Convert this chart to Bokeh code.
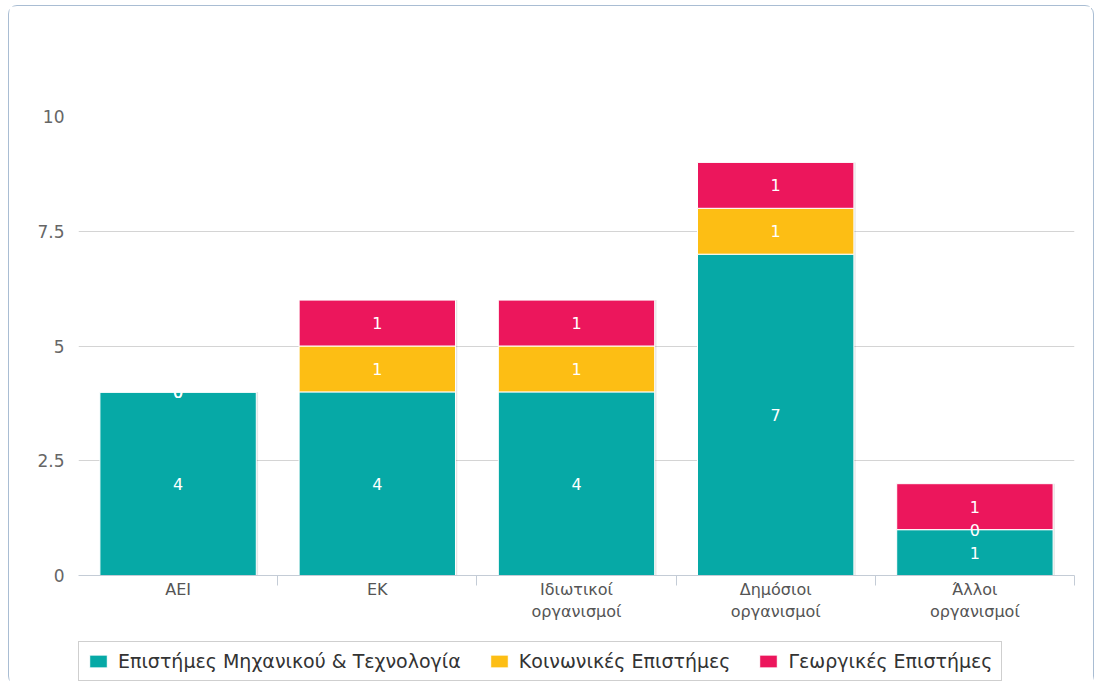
from bokeh.plotting import figure
from bokeh.layouts import column
from bokeh.models import Range1d, FixedTicker, Legend, LegendItem, ColumnDataSource
from bokeh.embed import file_html
from bokeh.resources import INLINE
from bokeh.core.properties import value

# ---- data ----
categories = ["ΑΕΙ", "ΕΚ", "Ιδιωτικοί\nοργανισμοί", "Δημόσιοι\nοργανισμοί", "Άλλοι\nοργανισμοί"]
series_names = ["Επιστήμες Μηχανικού & Τεχνολογία", "Κοινωνικές Επιστήμες", "Γεωργικές Επιστήμες"]
eng_tech = [4, 4, 4, 7, 1]
social = [0, 1, 1, 1, 0]
agri = [0, 1, 1, 1, 1]
y_ticks = [0, 2.5, 5, 7.5, 10]
y_tick_labels = ["0", "2.5", "5", "7.5", "10"]

colors = ["#06a9a6", "#fdbe14", "#ec165c"]
FONT = "DejaVu Sans"

n = len(categories)
xs = [i + 0.5 for i in range(n)]

p = figure(frame_width=996, frame_height=459, output_backend="svg", toolbar_location=None,
           x_range=Range1d(0, n), y_range=Range1d(0, 10),
           min_border_left=69, min_border_right=17, min_border_top=110, min_border_bottom=63)
p.outline_line_color = None
p.background_fill_color = "white"
p.border_fill_color = "white"

# stacked bars (with a soft shadow)
series = [eng_tech, social, agri]
totals = [sum(v) for v in zip(*series)]
shadow_src = ColumnDataSource(dict(x=[x + 0.009 for x in xs], top=totals, bottom=[-0.035] * n))
p.vbar(x="x", bottom="bottom", top="top", width=0.785, source=shadow_src,
       fill_color="#000000", fill_alpha=0.10, line_color=None)

bottom = [0] * n
renderers = []
for vals, col in zip(series, colors):
    top = [b + v for b, v in zip(bottom, vals)]
    mid = [b + v / 2 for b, v in zip(bottom, vals)]
    src = ColumnDataSource(dict(x=xs, bottom=bottom, top=top, mid=mid,
                                lab=[str(v) for v in vals]))
    r = p.vbar(x="x", bottom="bottom", top="top", width=0.785, source=src,
               fill_color=col, line_color="white", line_width=1)
    renderers.append((r, src))
    bottom = top

for r, src in renderers:
    p.text(x="x", y="mid", text="lab", source=src, text_align="center",
           text_baseline="middle", text_color="white", text_font=value(FONT),
           text_font_size="16px")

# grid
p.xgrid.visible = False
p.ygrid.ticker = FixedTicker(ticks=y_ticks)
p.ygrid.grid_line_color = "#d4d4d4"

# y axis
p.yaxis.ticker = FixedTicker(ticks=y_ticks)
p.yaxis.major_label_overrides = {t: l for t, l in zip(y_ticks, y_tick_labels)}
p.yaxis.axis_line_color = None
p.yaxis.major_tick_line_color = None
p.yaxis.major_tick_out = 0
p.yaxis.minor_tick_line_color = None
p.yaxis.minor_tick_out = 0
p.yaxis.major_label_text_font = FONT
p.yaxis.major_label_text_font_size = "17px"
p.yaxis.major_label_text_color = "#666666"
p.yaxis.major_label_standoff = 14

# x axis
p.xaxis.ticker = FixedTicker(ticks=xs, minor_ticks=[i for i in range(1, n + 1)])
p.xaxis.major_label_overrides = {x: c for x, c in zip(xs, categories)}
p.xaxis.axis_line_color = "#c4ccd6"
p.xaxis.major_tick_line_color = None
p.xaxis.major_tick_out = 0
p.xaxis.minor_tick_line_color = "#c4ccd6"
p.xaxis.minor_tick_out = 10
p.xaxis.minor_tick_in = 0
p.xaxis.major_label_text_font = FONT
p.xaxis.major_label_text_font_size = "16px"
p.xaxis.major_label_text_color = "#555555"
p.xaxis.major_label_standoff = -6

# ---- legend strip ----
lf = figure(width=1084, height=46, output_backend="svg", toolbar_location=None,
            x_axis_type=None, y_axis_type=None, min_border=0,
            x_range=Range1d(0, 1), y_range=Range1d(0, 1))
lf.outline_line_color = None
lf.xgrid.visible = False
lf.ygrid.visible = False
lf.border_fill_color = "white"
items = []
for nm, col in zip(series_names, colors):
    # proxy renderer lying outside the visible range: only its legend swatch shows
    rr = lf.vbar(x=[-5], top=[-5], bottom=[-6], width=0.5, fill_color=col,
                 line_color="white", line_width=1)
    items.append(LegendItem(label=nm, renderers=[rr]))

legend = Legend(items=items, orientation="horizontal", location=(0, 3))
legend.label_text_font = FONT
legend.label_text_font_size = "19px"
legend.label_text_color = "#333333"
legend.border_line_color = "#a0a0a0"
legend.border_line_width = 1
legend.glyph_width = 22
legend.glyph_height = 16
legend.spacing = 27
legend.padding = 8
legend.label_standoff = 9
legend.margin = 0
lf.add_layout(legend)

layout = column(p, lf, spacing=0)
layout.styles = {"border": "1px solid #a9bdd3", "border-radius": "9px",
                 "margin-left": "8px", "margin-top": "5px", "background": "white"}

open("out.html", "w").write(file_html(layout, INLINE))
